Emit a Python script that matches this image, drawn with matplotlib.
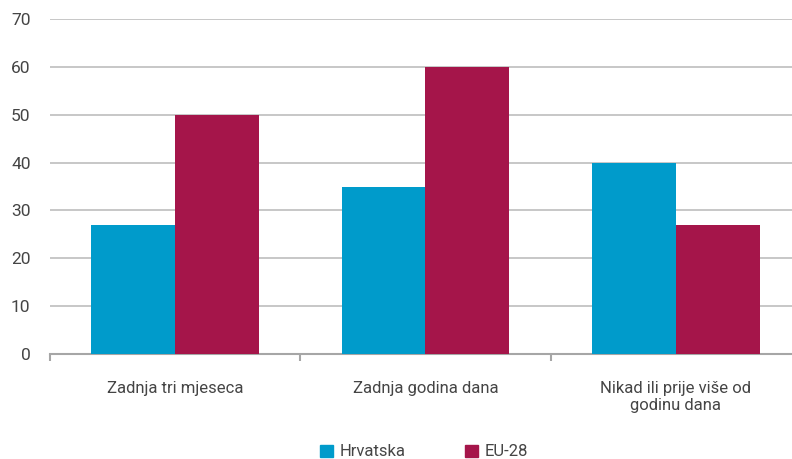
import numpy as np
import matplotlib.pyplot as plt
from matplotlib.patches import Patch

categories = ['Zadnja tri mjeseca', 'Zadnja godina dana', 'Nikad ili prije više od\ngodinu dana']
hrvatska = [27, 35, 40]
eu28 = [50, 60, 27]
series_names = ['Hrvatska', 'EU-28']
colors = ['#009BCB', '#A5154A']

plt.rcParams['font.family'] = ['Roboto', 'DejaVu Sans']

fig = plt.figure(figsize=(7.92, 4.59), dpi=100)
ax = fig.add_axes([50 / 792, 105 / 459, 751 / 792, 335 / 459])

x = np.arange(len(categories))
w = 0.335
ax.bar(x - w / 2, hrvatska, w, color=colors[0], zorder=3)
ax.bar(x + w / 2, eu28, w, color=colors[1], zorder=3)

ax.set_xlim(-0.5, len(categories) - 0.5)
ax.set_ylim(0, 70)
ax.set_yticks(range(0, 71, 10))
ax.yaxis.grid(True, color='#BDBDBD', lw=1.2, zorder=0)
ax.tick_params(axis='y', length=0, pad=14, labelsize=12.5, labelcolor='#454545')

for s in ['top', 'right', 'left']:
    ax.spines[s].set_visible(False)
ax.spines['bottom'].set_color('#A6A6A6')
ax.spines['bottom'].set_linewidth(1.5)

ax.set_xticks(np.arange(-0.5, len(categories), 1.0))
ax.set_xticklabels([])
ax.tick_params(axis='x', length=5, width=1.5, color='#A6A6A6')
for i, c in enumerate(categories):
    ax.text(i, -5.6, c, ha='center', va='top', fontsize=12, color='#454545',
            linespacing=1.2)

handles = [Patch(color=colors[0], label=series_names[0]),
           Patch(color=colors[1], label=series_names[1])]
fig.legend(handles=handles, loc='center', bbox_to_anchor=(424 / 792, 1 - 452 / 459),
           ncol=2, frameon=False, fontsize=12, handlelength=0.75, handleheight=0.75,
           columnspacing=3.6, handletextpad=0.4, labelcolor='#454545')

fig.savefig('out.png', dpi=100)
